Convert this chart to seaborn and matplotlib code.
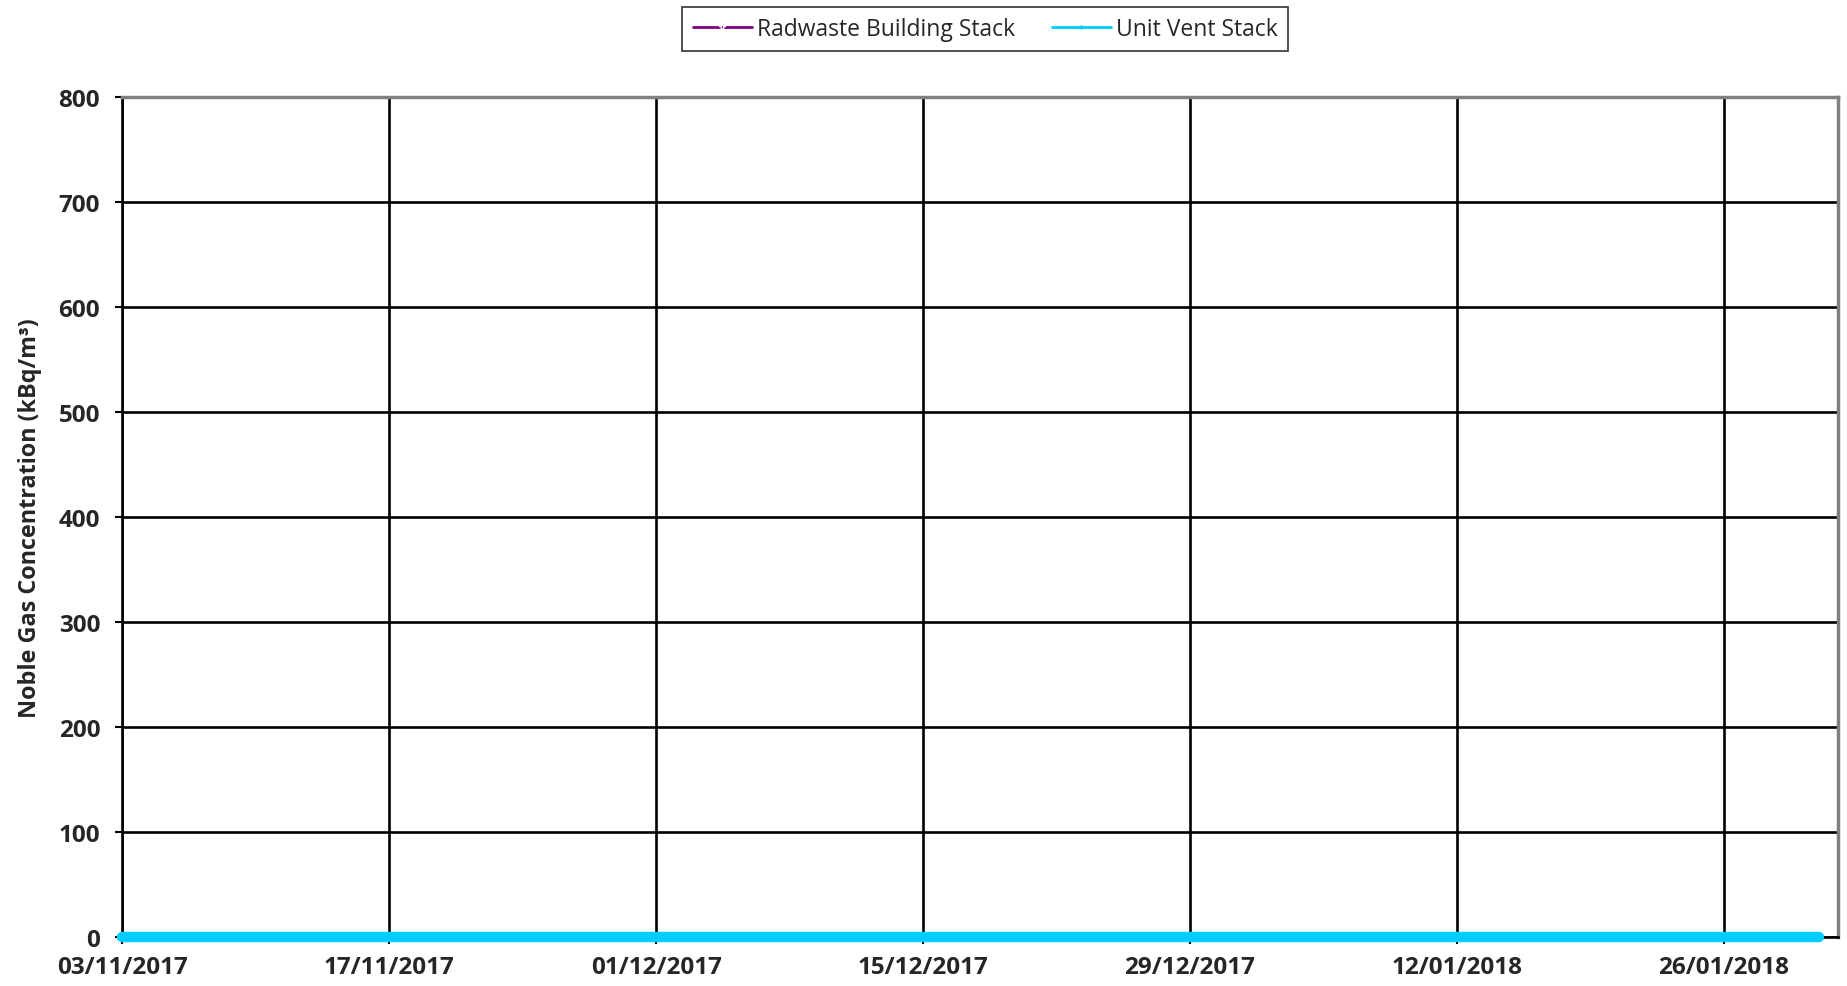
import numpy as np
import pandas as pd
import matplotlib
matplotlib.use("Agg")
import matplotlib.pyplot as plt
import matplotlib.dates as mdates
import seaborn as sns

# daily readings 03/11/2017 -> 31/01/2018 (all at ~0 kBq/m3)
start_date = "2017-11-03"
radwaste = [
    0.0, 0.0, 0.0, 0.0, 0.0, 0.0, 0.0, 0.0, 0.0, 0.0,
    0.0, 0.0, 0.0, 0.0, 0.0, 0.0, 0.0, 0.0, 0.0, 0.0,
    0.0, 0.0, 0.0, 0.0, 0.0, 0.0, 0.0, 0.0, 0.0, 0.0,
    0.0, 0.0, 0.0, 0.0, 0.0, 0.0, 0.0, 0.0, 0.0, 0.0,
    0.0, 0.0, 0.0, 0.0, 0.0, 0.0, 0.0, 0.0, 0.0, 0.0,
    0.0, 0.0, 0.0, 0.0, 0.0, 0.0, 0.0, 0.0, 0.0, 0.0,
    0.0, 0.0, 0.0, 0.0, 0.0, 0.0, 0.0, 0.0, 0.0, 0.0,
    0.0, 0.0, 0.0, 0.0, 0.0, 0.0, 0.0, 0.0, 0.0, 0.0,
    0.0, 0.0, 0.0, 0.0, 0.0, 0.0, 0.0, 0.0, 0.0, 0.0,
]
unit_vent = [
    0.0, 0.0, 0.0, 0.0, 0.0, 0.0, 0.0, 0.0, 0.0, 0.0,
    0.0, 0.0, 0.0, 0.0, 0.0, 0.0, 0.0, 0.0, 0.0, 0.0,
    0.0, 0.0, 0.0, 0.0, 0.0, 0.0, 0.0, 0.0, 0.0, 0.0,
    0.0, 0.0, 0.0, 0.0, 0.0, 0.0, 0.0, 0.0, 0.0, 0.0,
    0.0, 0.0, 0.0, 0.0, 0.0, 0.0, 0.0, 0.0, 0.0, 0.0,
    0.0, 0.0, 0.0, 0.0, 0.0, 0.0, 0.0, 0.0, 0.0, 0.0,
    0.0, 0.0, 0.0, 0.0, 0.0, 0.0, 0.0, 0.0, 0.0, 0.0,
    0.0, 0.0, 0.0, 0.0, 0.0, 0.0, 0.0, 0.0, 0.0, 0.0,
    0.0, 0.0, 0.0, 0.0, 0.0, 0.0, 0.0, 0.0, 0.0, 0.0,
]
tick_dates = ["2017-11-03", "2017-11-17", "2017-12-01", "2017-12-15",
              "2017-12-29", "2018-01-12", "2018-01-26"]
y_ticks = [0, 100, 200, 300, 400, 500, 600, 700, 800]
x_end = "2018-02-01"

dates = pd.date_range(start_date, periods=len(unit_vent), freq="D")
df = pd.DataFrame({"date": dates, "Radwaste Building Stack": radwaste,
                   "Unit Vent Stack": unit_vent})

sns.set_style("white")
plt.rcParams['font.family'] = ['Open Sans', 'DejaVu Sans']

fig = plt.figure(figsize=(18.47, 9.87), dpi=100)
ax = fig.add_axes([0.0663, 0.05, 0.9288, 0.8509])

sns.lineplot(data=df, x="date", y="Radwaste Building Stack", ax=ax,
             color="#800080", lw=2, marker="*", markersize=5,
             label="Radwaste Building Stack", clip_on=False, zorder=3)
sns.lineplot(data=df, x="date", y="Unit Vent Stack", ax=ax,
             color="#00CCFF", lw=7.5, marker="o", markersize=3,
             markeredgewidth=0, label="Unit Vent Stack", clip_on=False,
             zorder=4)

ax.set_xlim(pd.Timestamp(start_date), pd.Timestamp(x_end))
ax.set_ylim(0, 800)
ax.set_yticks(y_ticks)
ax.set_xticks(pd.to_datetime(tick_dates))
ax.xaxis.set_major_formatter(mdates.DateFormatter("%d/%m/%Y"))
ax.grid(True, color="black", lw=1.9)
ax.set_axisbelow(True)

ax.tick_params(axis="both", which="major", direction="out", length=5,
               width=1.5, color="black", labelsize=17.5, left=True,
               bottom=True)
ax.tick_params(axis="x", pad=8)
ax.tick_params(axis="y", pad=11)
for lbl in ax.get_xticklabels() + ax.get_yticklabels():
    lbl.set_fontweight("bold")

ax.set_xlabel("")
ax.set_ylabel("Noble Gas Concentration (kBq/m³)", fontsize=16.8,
              fontweight="bold", labelpad=12)

for side in ["left", "bottom"]:
    ax.spines[side].set_color("black")
    ax.spines[side].set_linewidth(1.9)
for side in ["top", "right"]:
    ax.spines[side].set_color("#808080")
    ax.spines[side].set_linewidth(2.5)

handles, labels = ax.get_legend_handles_labels()
ax.get_legend().remove()
leg = fig.legend(handles, labels, loc="center", bbox_to_anchor=(0.5333, 0.9696),
                 ncol=2, frameon=True, fancybox=False, fontsize=16.5,
                 handlelength=2.6, columnspacing=1.6, handletextpad=0.2,
                 borderpad=0.45, borderaxespad=0)
leg.get_frame().set_edgecolor("black")
leg.get_frame().set_linewidth(1.2)
for h in leg.get_lines():
    h.set_linewidth(2)

fig.savefig("out.png", dpi=100)
